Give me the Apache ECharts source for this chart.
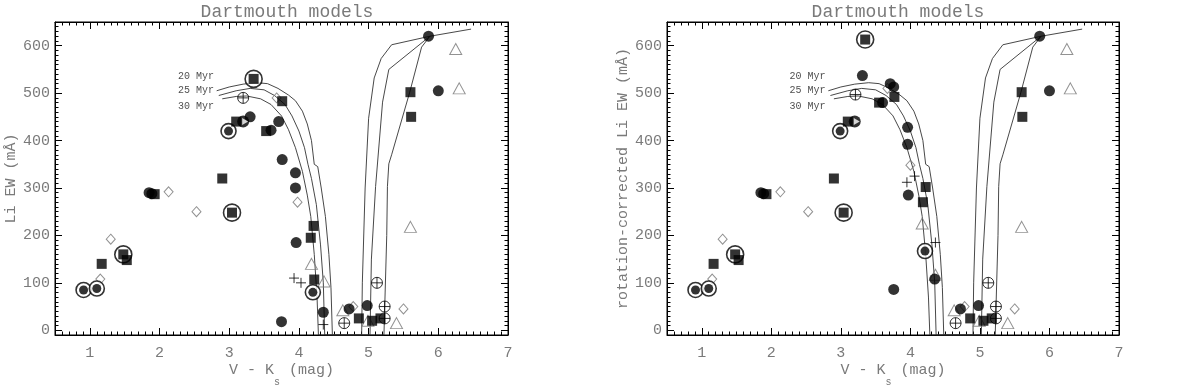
<!DOCTYPE html>
<html><head><meta charset="utf-8">
<script src="https://cdn.jsdelivr.net/npm/echarts@6/dist/echarts.min.js"></script>
<style>html,body{margin:0;padding:0;background:#fff}#c{width:1200px;height:385px}</style>
</head><body><div id="c"></div>
<script>
// ---------- data ----------
const xTicks = [1, 2, 3, 4, 5, 6, 7];
const yTicks = [0, 100, 200, 300, 400, 500, 600];
const isoNames = ['20 Myr', '25 Myr', '30 Myr'];
const isoLabelPos = [[2.78, 535], [2.78, 505], [2.78, 473]];

const iso20 = [[2.82,505],[3.0,513],[3.2,519],[3.4,522],[3.55,520],[3.7,510],[3.85,496],[3.95,484],[4.05,462],[4.12,435],[4.18,400],[4.22,350],[4.27,345],[4.32,300],[4.38,240],[4.43,160],[4.46,90],[4.48,-10],[4.9,-10],[4.91,100],[4.95,300],[5.0,447],[5.08,532],[5.18,573],[5.33,602],[5.88,620],[6.47,635]];
const iso25 = [[2.85,495],[3.1,505],[3.3,510],[3.5,507],[3.65,495],[3.8,476],[3.9,452],[4.0,420],[4.08,385],[4.13,350],[4.18,320],[4.25,265],[4.31,180],[4.35,100],[4.37,-10],[5.02,-10],[5.04,150],[5.1,303],[5.2,481],[5.29,550],[5.88,620]];
const iso30 = [[2.9,488],[3.1,493],[3.25,494],[3.45,488],[3.6,476],[3.75,452],[3.85,423],[3.95,385],[4.05,335],[4.12,285],[4.17,240],[4.22,160],[4.26,70],[4.28,-10],[5.22,-10],[5.26,200],[5.27,303],[5.29,351],[5.33,370],[5.59,502],[5.76,597],[5.88,620]];

// left panel: Li EW
const L_dot = [[1.85,290],[1.89,288],[3.30,450],[3.60,422],[3.71,440],[3.76,360],[3.95,332],[3.95,300],[3.96,185],[3.75,18],[4.35,38],[4.72,45],[4.98,52],[5.86,620],[6.00,505]];
const L_sq = [[1.17,140],[1.53,148],[1.93,287],[2.90,320],[3.10,440],[3.53,420],[3.76,483],[4.17,195],[4.21,220],[4.22,107],[4.86,25],[5.05,20],[5.17,25],[5.60,502],[5.61,450]];
const L_ringDot = [[0.91,85],[1.10,88],[2.99,420],[4.20,80]];
const L_ringSq = [[1.48,160],[3.04,248],[3.35,530]];
const L_half = [[3.20,440]];
const L_oplus = [[3.20,490],[4.65,15],[5.12,100],[5.23,50],[5.23,25]];
const L_diamond = [[1.15,108],[1.30,192],[2.13,292],[2.53,250],[3.68,490],[3.98,270],[4.78,50],[5.50,45]];
const L_tri = [[4.18,140],[4.36,103],[4.63,42],[4.99,20],[5.40,15],[5.60,218],[6.25,593],[6.30,510]];
const L_plus = [[3.93,110],[4.03,100],[4.35,12]];

// right panel: rotation-corrected Li EW
const R_dot = [[1.85,290],[1.89,288],[3.31,537],[3.60,480],[3.71,520],[3.76,513],[3.96,428],[3.96,392],[3.97,285],[3.76,86],[4.35,108],[4.72,45],[4.98,52],[5.86,620],[6.00,505]];
const R_sq = [[1.17,140],[1.53,148],[1.93,287],[2.90,320],[3.10,440],[3.55,480],[3.77,492],[4.18,270],[4.22,302],[4.86,25],[5.05,20],[5.17,25],[5.60,502],[5.61,450]];
const R_ringDot = [[0.91,85],[1.10,88],[2.99,420],[4.21,167]];
const R_ringSq = [[1.48,160],[3.04,248],[3.35,613]];
const R_half = [[3.20,440]];
const R_oplus = [[3.21,497],[4.65,15],[5.12,100],[5.23,50],[5.23,25]];
const R_diamond = [[1.15,108],[1.30,192],[2.13,292],[2.53,250],[3.67,510],[4.00,348],[4.78,50],[5.50,45]];
const R_tri = [[4.17,225],[4.36,117],[4.63,42],[4.99,20],[5.40,15],[5.60,218],[6.25,593],[6.30,510]];
const R_plus = [[3.95,312],[4.06,325],[4.36,185]];

// ---------- chart ----------
const FONT = '"Liberation Mono","DejaVu Sans Mono",monospace';
const GRAY = '#7a7a7a';
const xMinor = [], yMinor = [];
for (let i = 6; i < 70; i++) xMinor.push(i / 10);
for (let i = 0; i <= 65; i++) yMinor.push(i * 10);

const rects = [
  {left: 55, top: 22, width: 453, height: 313},
  {left: 667, top: 22, width: 452, height: 313}
];
const grids = [];
[0, 1, 0, 1].forEach((r, k) => grids.push(Object.assign({
  outerBoundsMode: 'none', containLabel: false,
  show: k < 2, borderColor: '#000', borderWidth: 1, backgroundColor: 'transparent'
}, rects[r])));

const noLine = {show: false, onZero: false};
const line = {show: true, onZero: false, lineStyle: {color: '#000', width: 1}};
const tickStyle = {color: '#000', width: 1};

function xPair(g, vals, len, withLabels) {
  const base = {gridIndex: g, type: 'value', min: 0.5, max: 7, splitLine: {show: false}};
  const bottom = Object.assign({}, base, {position: 'bottom', axisLine: withLabels ? line : noLine,
    axisTick: {show: true, inside: true, length: len, customValues: vals, lineStyle: tickStyle},
    axisLabel: withLabels ? {show: true, customValues: xTicks, color: GRAY, fontFamily: FONT, fontSize: 15, margin: 11}
                          : {show: false}});
  if (withLabels) Object.assign(bottom, {
    name: '{a|V - K}{s|s}{a| (mag)}', nameLocation: 'middle', nameGap: 28, nameMoveOverlap: false,
    nameTextStyle: {color: GRAY, fontFamily: FONT, fontSize: 15,
      rich: {a: {fontSize: 15, color: GRAY, fontFamily: FONT, lineHeight: 24, verticalAlign: 'top'},
             s: {fontSize: 10, color: GRAY, fontFamily: FONT, lineHeight: 24, verticalAlign: 'bottom'}}}});
  const top = Object.assign({}, base, {position: 'top', axisLine: withLabels ? line : noLine,
    axisTick: {show: true, inside: true, length: len, customValues: vals, lineStyle: tickStyle},
    axisLabel: {show: false}});
  return [bottom, top];
}
function yPair(g, vals, len, name) {
  const base = {gridIndex: g, type: 'value', min: -10, max: 650, splitLine: {show: false}};
  const left = Object.assign({}, base, {position: 'left', axisLine: name ? line : noLine,
    axisTick: {show: true, inside: true, length: len, customValues: vals, lineStyle: tickStyle},
    axisLabel: name ? {show: true, customValues: yTicks, color: GRAY, fontFamily: FONT, fontSize: 15, margin: 5}
                    : {show: false}});
  if (name) Object.assign(left, {name: name, nameLocation: 'middle', nameGap: 36, nameMoveOverlap: false,
    nameTextStyle: {color: GRAY, fontFamily: FONT, fontSize: 15}});
  const right = Object.assign({}, base, {position: 'right', axisLine: name ? line : noLine,
    axisTick: {show: true, inside: true, length: len, customValues: vals, lineStyle: tickStyle},
    axisLabel: {show: false}});
  return [left, right];
}

const xAxis = [].concat(xPair(0, xTicks, 7, true), xPair(1, xTicks, 7, true),
                        xPair(2, xMinor, 3.5, false), xPair(3, xMinor, 3.5, false));
const yAxis = [].concat(yPair(0, yTicks, 7, 'Li EW (mÅ)'), yPair(1, yTicks, 7, 'rotation-corrected Li EW (mÅ)'),
                        yPair(2, yMinor, 3.5, null), yPair(3, yMinor, 3.5, null));

const OPLUS = 'path://M5,0A5,5 0 1,1 5,10A5,5 0 1,1 5,0ZM0,5L10,5M5,0L5,10';
const PLUS = 'path://M0,5L10,5M5,0L5,10';

function panelSeries(g, d) {
  const ax = {xAxisIndex: g * 2, yAxisIndex: g * 2};
  const s = [];
  [iso20, iso25, iso30].forEach(c => s.push(Object.assign({type: 'line', data: c, symbol: 'none', clip: true,
    silent: true, lineStyle: {color: '#333', width: 0.9}, z: 1}, ax)));
  s.push(Object.assign({type: 'scatter', data: isoLabelPos.map((p, i) => ({value: p, name: isoNames[i]})),
    symbolSize: 0, silent: true, z: 2,
    label: {show: true, position: 'left', distance: 0, formatter: p => p.name,
      fontFamily: FONT, fontSize: 10, color: '#222'}}, ax));
  const sc = (data, symbol, size, style, z, extra) => s.push(Object.assign({type: 'scatter', data: data,
    symbol: symbol, symbolSize: size, itemStyle: style, z: z, silent: true}, extra || {}, ax));
  const open = (c, w) => ({color: 'rgba(0,0,0,0)', borderColor: c, borderWidth: w});
  sc(d.diamond, 'diamond', [9, 10], open('#777', 1), 3);
  sc(d.tri, 'triangle', [12, 11], open('#777', 1), 3);
  sc(d.oplus, OPLUS, 11, open('#000', 1), 3);
  sc(d.plus, PLUS, 10, open('#000', 1), 3);
  sc(d.ringDot, 'circle', 15, {color: '#fff', borderColor: '#000', borderWidth: 1.6}, 4);
  sc(d.ringDot, 'circle', 9, {color: '#000'}, 5);
  sc(d.ringSq, 'circle', 17, {color: '#fff', borderColor: '#000', borderWidth: 1.6}, 4);
  sc(d.ringSq, 'rect', 10, {color: '#000'}, 5);
  sc(d.sq, 'rect', 10, {color: '#000'}, 5);
  sc(d.dot, 'circle', 11, {color: '#000'}, 6);
  sc(d.half, 'circle', 12, {color: '#000'}, 6);
  sc(d.half, 'triangle', [7, 6], {color: '#fff'}, 7, {symbolRotate: -90, symbolOffset: [2, 0]});
  return s;
}

const chart = echarts.init(document.getElementById('c'), null, {renderer: 'canvas'});
chart.setOption({
  animation: false,
  backgroundColor: '#fff',
  title: [
    {text: 'Dartmouth models', left: 282, top: -2, textAlign: 'center',
      textStyle: {fontFamily: FONT, fontSize: 18, fontWeight: 'normal', color: GRAY}},
    {text: 'Dartmouth models', left: 893, top: -2, textAlign: 'center',
      textStyle: {fontFamily: FONT, fontSize: 18, fontWeight: 'normal', color: GRAY}}
  ],
  grid: grids,
  xAxis: xAxis,
  yAxis: yAxis,
  series: panelSeries(0, {dot: L_dot, sq: L_sq, ringDot: L_ringDot, ringSq: L_ringSq, half: L_half,
      oplus: L_oplus, diamond: L_diamond, tri: L_tri, plus: L_plus})
    .concat(panelSeries(1, {dot: R_dot, sq: R_sq, ringDot: R_ringDot, ringSq: R_ringSq, half: R_half,
      oplus: R_oplus, diamond: R_diamond, tri: R_tri, plus: R_plus}))
});
</script></body></html>
